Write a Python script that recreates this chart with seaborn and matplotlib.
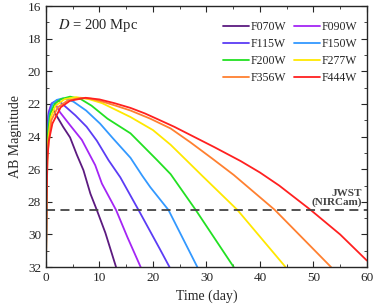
import numpy as np
import pandas as pd
import matplotlib
matplotlib.use("Agg")
import matplotlib.pyplot as plt
from matplotlib.ticker import MultipleLocator
import seaborn as sns

# light curves (time in days, AB magnitude)
filters = ["F070W", "F090W", "F115W", "F150W", "F200W", "F277W", "F356W", "F444W"]
colors = ["#5c1a80", "#a425f5", "#5b3cf5", "#3399ff", "#22e022", "#ffe800", "#ff8030", "#ff2020"]

t_f070w = [0.0, 0.06, 0.2, 0.5, 0.9, 1.4, 2.3, 3.2, 4.5, 5.75, 7.0, 8.3, 9.5, 11.1, 13.1]
m_f070w = [32, 27.0, 24.2, 22.7, 22.25, 22.4, 22.9, 23.4, 24.05, 25.1, 26.06, 27.5, 28.5, 29.9, 32]

t_f090w = [0.0, 0.06, 0.2, 0.5, 1.0, 1.6, 2.6, 4.5, 6.7, 9.2, 10.45, 13.1, 15.2, 17.7]
m_f090w = [32, 27.0, 24.0, 22.5, 22.0, 21.9, 22.5, 23.3, 24.2, 25.75, 26.88, 28.5, 30.15, 32]

t_f115w = [0.0, 0.07, 0.2, 0.5, 1.1, 2.2, 3.6, 5.5, 7.6, 9.5, 11.7, 13.9, 17.3, 21.3, 23.1]
m_f115w = [32, 27.0, 24.0, 22.6, 21.95, 21.75, 22.15, 22.7, 23.4, 24.25, 25.45, 26.5, 28.5, 30.9, 32]

t_f150w = [0.0, 0.08, 0.25, 0.6, 1.2, 2.0, 3.2, 5.1, 7.5, 10.1, 12.5, 15.8, 18.0, 19.5, 22.9, 28.3]
m_f150w = [32, 27.0, 24.0, 22.7, 22.0, 21.75, 21.65, 21.85, 22.4, 23.2, 24.1, 25.3, 26.4, 27.1, 28.5, 32]

t_f200w = [0.0, 0.1, 0.3, 0.8, 1.6, 2.8, 4.5, 6.5, 8.5, 11.5, 15.8, 20.8, 23.3, 28.0, 35.1]
m_f200w = [32, 27.0, 24.0, 22.6, 22.0, 21.7, 21.55, 21.7, 22.1, 22.9, 23.8, 25.45, 26.3, 28.5, 32]

t_f277w = [0.0, 0.1, 0.3, 0.9, 1.8, 3.5, 5.6, 8.0, 10.5, 13.0, 15.8, 20.0, 23.3, 26.1, 29.2, 35.8, 44.8]
m_f277w = [32, 27.5, 24.5, 22.8, 22.1, 21.7, 21.58, 21.7, 21.95, 22.35, 22.8, 23.6, 24.5, 25.4, 26.4, 28.5, 32]

t_f356w = [0.0, 0.1, 0.3, 1.0, 2.2, 4.0, 6.5, 8.5, 10.5, 13.0, 15.8, 19.5, 23.3, 27.0, 31.1, 35.1, 42.8, 53.3]
m_f356w = [32, 28.0, 25.0, 23.0, 22.2, 21.8, 21.62, 21.68, 21.85, 22.1, 22.4, 22.9, 23.5, 24.35, 25.35, 26.35, 28.5, 32]

t_f444w = [0.0, 0.1, 0.25, 0.5, 1.2, 2.75, 4.5, 7.4, 10.0, 12.8, 15.8, 18.5, 21.0, 24.0, 27.0, 31.5, 36.4, 40.0, 43.6, 49.5, 55.0, 60.0]
m_f444w = [32, 28.0, 25.5, 24.3, 23.2, 22.2, 21.8, 21.62, 21.72, 21.95, 22.24, 22.58, 22.95, 23.4, 23.9, 24.65, 25.5, 26.2, 27.0, 28.5, 30.0, 31.6]

jwst_limit = 28.5
distance_mpc = 200

curves = [(t_f070w, m_f070w), (t_f090w, m_f090w), (t_f115w, m_f115w), (t_f150w, m_f150w),
          (t_f200w, m_f200w), (t_f277w, m_f277w), (t_f356w, m_f356w), (t_f444w, m_f444w)]

rows = []
for name, (tt, mm) in zip(filters, curves):
    for t, m in zip(tt, mm):
        rows.append({"time": t, "mag": m, "filter": name})
df = pd.DataFrame(rows)

sns.set_style("ticks")
plt.rcParams["font.family"] = ["Liberation Serif", "DejaVu Serif"]
plt.rcParams["mathtext.fontset"] = "stix"

fig = plt.figure(figsize=(3.74, 3.07), dpi=100)
ax = fig.add_axes([0.123, 0.13, 0.858, 0.85])

sns.lineplot(data=df, x="time", y="mag", hue="filter", hue_order=filters,
             palette=dict(zip(filters, colors)), sort=False, estimator=None,
             linewidth=1.3, ax=ax)

ax.axhline(jwst_limit, color="#444444", linestyle=(0, (5, 3)), linewidth=1.3)
ax.text(59.0, jwst_limit - 0.2, "JWST\n(NIRCam)", ha="right", va="bottom",
        fontsize=8, fontweight="bold", color="#444444", linespacing=0.85)

ax.text(2.2, 17.2, r"$D$ = %d Mpc" % distance_mpc, fontsize=10.5, va="center")

ax.set_xlim(0, 60)
ax.set_ylim(32, 16)
ax.xaxis.set_major_locator(MultipleLocator(10))
ax.xaxis.set_minor_locator(MultipleLocator(5))
ax.yaxis.set_major_locator(MultipleLocator(2))
ax.yaxis.set_minor_locator(MultipleLocator(1))
ax.tick_params(which="both", direction="in", top=True, right=True, labelsize=9.5)
ax.tick_params(which="major", length=4)
ax.tick_params(which="minor", length=2)
for sp in ax.spines.values():
    sp.set_linewidth(1.0)
ax.set_xlabel("Time (day)", fontsize=10)
ax.set_ylabel("AB Magnitude", fontsize=10)

# row-major legend order (matplotlib fills columns first)
handles, labels = ax.get_legend_handles_labels()
order = [0, 2, 4, 6, 1, 3, 5, 7]
ax.legend([handles[i] for i in order], [labels[i] for i in order],
          ncol=2, frameon=False, fontsize=8.5, loc="upper right",
          bbox_to_anchor=(0.995, 0.975), handlelength=2.2, handletextpad=0.15,
          columnspacing=0.6, labelspacing=0.42, borderaxespad=0.3)

fig.savefig("out.png", dpi=100)
